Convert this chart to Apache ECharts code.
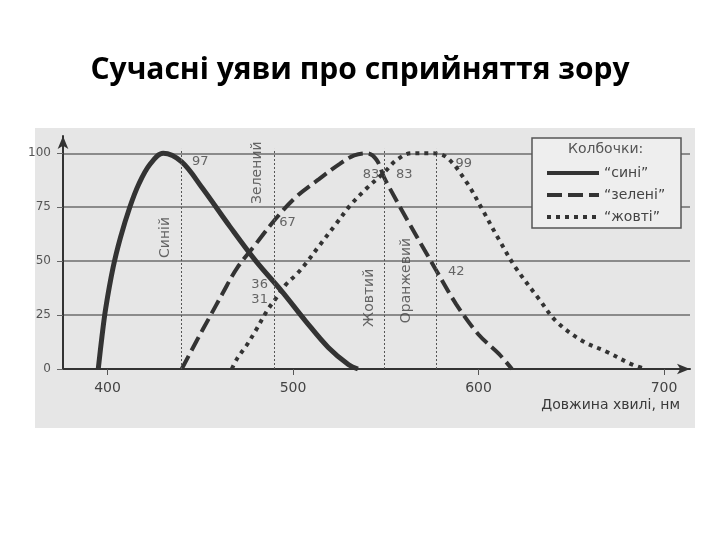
<!DOCTYPE html>
<html>
<head>
<meta charset="utf-8">
<script src="https://cdn.jsdelivr.net/npm/echarts@6/dist/echarts.min.js"></script>
<style>
  html, body { margin: 0; padding: 0; background: #fff; }
  #chart { width: 720px; height: 540px; }
</style>
</head>
<body>
<div id="chart"></div>
<script>
// wavelength (nm) / relative sensitivity (%)
const blueCurve = [
    [395, 0], [397, 15], [399, 28], [403, 47], [407, 61], [412, 75], [417, 86],
    [423, 95], [430, 100], [440, 96], [451, 84], [466, 66], [480, 50], [494, 36],
    [507, 22], [519, 10], [530, 2], [535, 0]
];
const greenCurve = [
    [440, 0], [448, 13], [455, 24], [462, 35], [470, 47], [480, 58], [491, 70],
    [502, 80], [514, 88], [525, 95], [533, 99], [540, 100], [545, 97], [549, 89],
    [552, 84], [561, 70], [573, 52], [577, 46], [588, 30], [600, 16], [611, 7], [618, 0]
];
const yellowCurve = [
    [467, 0], [470, 5], [475, 11], [480, 18], [486, 27], [491, 33], [496, 39],
    [502, 44], [507, 49], [514, 57], [523, 67], [531, 76], [540, 84], [549, 91],
    [556, 97], [564, 100], [575, 100], [583, 98], [594, 86], [602, 74], [611, 60],
    [620, 47], [633, 32], [642, 22], [656, 13], [669, 8], [683, 2], [690, 0]
];

const seriesNames = ['“сині”', '“зелені”', '“жовті”'];
const xTicks = [400, 500, 600, 700];

const refLineX = [440, 490, 549, 577];
const refLineTop = 102;
const refNames = [
    [431, 61, 'Синій'],
    [481, 91, 'Зелений'],
    [541, 33, 'Жовтий'],
    [561, 41, 'Оранжевий']
];
const valueLabels = [
    [450, 96, '97'],
    [497, 68, '67'],
    [482, 39, '36'],
    [482, 32, '31'],
    [542, 90, '83'],
    [560, 90, '83'],
    [592, 95, '99'],
    [588, 45, '42']
];

const ink = '#333';
const soft = '#444';

const chart = echarts.init(document.getElementById('chart'));

chart.setOption({
    animation: false,
    backgroundColor: '#fff',
    title: {
        text: 'Сучасні уяви про сприйняття зору',
        left: 'center',
        top: 50,
        textStyle: { fontFamily: 'Open Sans', fontWeight: 'bold', fontSize: 30, color: '#000' }
    },
    graphic: [
        // grey scanned page behind the plot
        { type: 'rect', z: -10, shape: { x: 35, y: 128, width: 660, height: 300 }, style: { fill: '#e6e6e6' } },
        // legend frame
        { type: 'rect', z: 3, shape: { x: 532, y: 138, width: 149, height: 90 }, style: { fill: '#eeeeee', stroke: '#555', lineWidth: 1.5 } },
        {
            type: 'text', z: 5, left: 568, top: 142,
            style: { text: 'Колбочки:', fontFamily: 'DejaVu Sans', fontSize: 14, fill: '#555' }
        },
        {
            type: 'text', z: 5, right: 40, top: 398,
            style: { text: 'Довжина хвилі, нм', fontFamily: 'DejaVu Sans', fontSize: 14, fill: '#3a3a3a' }
        }
    ],
    legend: {
        data: seriesNames,
        orient: 'vertical',
        left: 540,
        top: 161,
        itemWidth: 52,
        itemHeight: 14,
        itemGap: 8,
        z: 4,
        itemStyle: { opacity: 0 },
        lineStyle: { width: 4 },
        textStyle: { fontFamily: 'DejaVu Sans', fontSize: 14, color: '#444' }
    },
    grid: { left: 63, right: 30, top: 136, bottom: 171 },
    xAxis: {
        type: 'value',
        min: 376,
        max: 714,
        axisLine: { lineStyle: { color: ink, width: 2 }, symbol: ['none', 'arrow'], symbolSize: [8, 13] },
        axisTick: { show: true, length: 6, customValues: xTicks, lineStyle: { color: '#555' } },
        axisLabel: { customValues: xTicks, margin: 12, fontFamily: 'DejaVu Sans', fontSize: 14, color: '#444' },
        splitLine: { show: false }
    },
    yAxis: {
        type: 'value',
        min: 0,
        max: 108,
        interval: 25,
        axisLine: { show: true, lineStyle: { color: ink, width: 2 }, symbol: ['none', 'arrow'], symbolSize: [8, 13] },
        axisTick: { show: true, length: 6, lineStyle: { color: '#666' } },
        axisLabel: {
            margin: 12,
            fontFamily: 'DejaVu Sans',
            fontSize: 12,
            color: '#555',
            showMaxLabel: false
        },
        splitLine: { showMaxLine: false, lineStyle: { color: '#6d6d6d', width: 1.5 } }
    },
    series: [
        {
            name: seriesNames[0],
            type: 'line',
            data: blueCurve,
            smooth: 0.35,
            symbol: 'none',
            color: ink,
            lineStyle: { color: ink, width: 5 }
        },
        {
            name: seriesNames[1],
            type: 'line',
            data: greenCurve,
            smooth: 0.35,
            symbol: 'none',
            color: ink,
            lineStyle: { color: ink, width: 4, type: [15, 6] }
        },
        {
            name: seriesNames[2],
            type: 'line',
            data: yellowCurve,
            smooth: 0.35,
            symbol: 'none',
            color: ink,
            lineStyle: { color: ink, width: 4, type: [4, 5] }
        },
        {
            name: 'refs',
            type: 'scatter',
            data: refNames,
            symbolSize: 0,
            silent: true,
            label: {
                show: true,
                position: 'inside',
                rotate: 90,
                formatter: p => p.data[2],
                fontFamily: 'DejaVu Sans',
                fontSize: 14,
                color: soft
            },
            markLine: {
                silent: true,
                symbol: 'none',
                label: { show: false },
                lineStyle: { color: '#555', width: 1, type: [2, 2] },
                data: refLineX.map(x => [{ coord: [x, 0] }, { coord: [x, refLineTop] }])
            }
        },
        {
            name: 'values',
            type: 'scatter',
            data: valueLabels,
            symbolSize: 0,
            silent: true,
            label: {
                show: true,
                position: 'inside',
                formatter: p => p.data[2],
                fontFamily: 'DejaVu Sans',
                fontSize: 13,
                color: soft
            }
        }
    ]
});
</script>
</body>
</html>
